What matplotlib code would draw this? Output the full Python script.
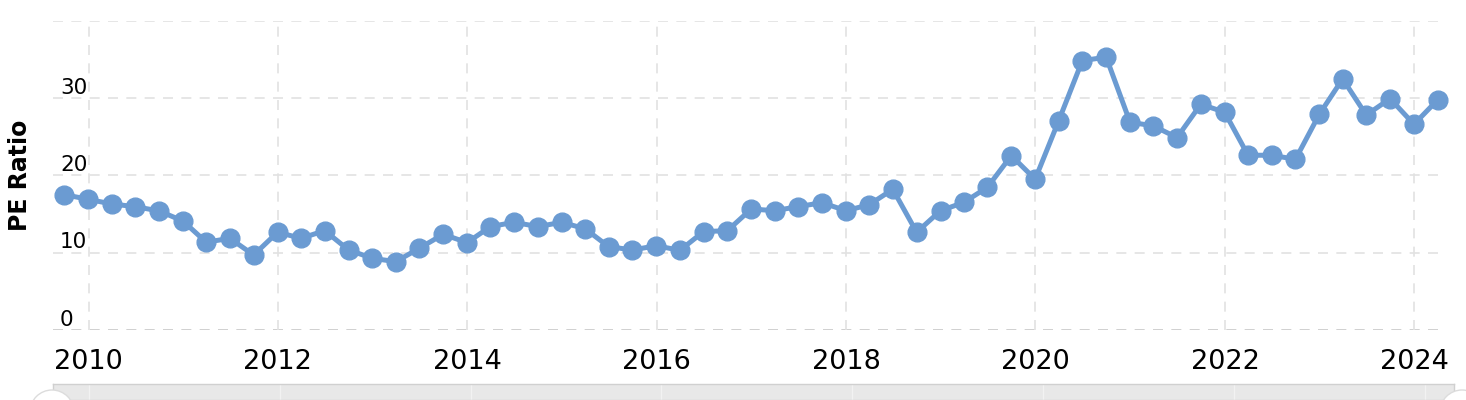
import numpy as np
import pandas as pd
import matplotlib
matplotlib.use("Agg")
import matplotlib.pyplot as plt
from matplotlib.patches import Ellipse


# quarter-end dates, 2009 Q3 .. 2024 Q1
dates = pd.date_range("2009-09-30", "2024-03-31", freq="QE")

# PE ratio
pe_ratio = [17.5, 16.9, 16.3, 15.95, 15.4, 14.1, 11.35, 11.86, 9.7, 12.64,
            11.86, 12.85, 10.35, 9.27, 8.84, 10.57, 12.38, 11.3, 13.37, 13.93,
            13.37, 13.93, 13.1, 10.78, 10.35, 10.9, 10.3, 12.72, 12.85, 15.65,
            15.43, 15.95, 16.47, 15.43, 16.2, 18.2, 12.64, 15.43, 16.5, 18.46,
            22.55, 19.5, 27.08, 34.84, 35.28, 26.87, 26.4, 24.88, 29.2, 28.16,
            22.6, 22.6, 22.08, 27.9, 32.47, 27.8, 29.92, 26.6, 29.75]

y_ticks = [0, 10, 20, 30, 40]
y_labels = ["0", "10", "20", "30"]
x_years = [2010, 2012, 2014, 2016, 2018, 2020, 2022, 2024]

line_color = "#6b9bd2"
W, H = 1466, 400

fig = plt.figure(figsize=(W / 100, H / 100), dpi=100)
ax = fig.add_axes([53 / W, 70 / H, (1443 - 53) / W, (330 - 20.7) / H])

ax.plot(dates, pe_ratio, color=line_color, lw=3.6, marker="o", ms=13.5,
        solid_joinstyle="round", clip_on=False, zorder=3)

ax.set_ylim(0, 40)
ax.set_xlim(pd.Timestamp("2009-08-17"), pd.Timestamp("2024-04-21"))

# grid
for v in y_ticks:
    ax.axhline(v, color="#c8c8c8" if v == 0 else "#e2e2e2", lw=1.2,
               ls=(0, (6, 5)), zorder=1)
for yr in x_years:
    ax.axvline(pd.Timestamp(f"{yr}-01-01"), color="#e2e2e2", lw=1.2,
               ls=(0, (6, 5)), zorder=1)

ax.set_yticks([])
ax.set_xticks([pd.Timestamp(f"{yr}-01-01") for yr in x_years])
ax.set_xticklabels([str(yr) for yr in x_years])
ax.tick_params(axis="x", length=0, pad=14, labelsize=19.5, colors="black")
for s in ax.spines.values():
    s.set_visible(False)

# y labels sit inside the plot, above their grid line
for v, lab in zip(y_ticks, y_labels):
    ax.text(0.005, v + 0.55, lab, transform=ax.get_yaxis_transform(),
            ha="left", va="baseline", fontsize=15.5, color="black")

fig.text(20 / W, (H - 175) / H, "PE Ratio", rotation=90, ha="center",
         va="center", fontsize=17, fontweight="bold")

# navigator strip at the bottom
nav = fig.add_axes([53 / W, 0, (1454 - 53) / W, 16 / H])
nav.set_facecolor("#e8e8e8")
nav.set_xlim(ax.get_xlim())
for yr in x_years:
    nav.axvline(pd.Timestamp(f"{yr}-01-01"), color="#f2f2f2", lw=1)
nav.set_xticks([])
nav.set_yticks([])
for s in nav.spines.values():
    s.set_color("#d0d0d0")
    s.set_linewidth(1)

# navigator handles
for cx in (52, 1462):
    fig.patches.append(Ellipse((cx / W, -12 / H), 44 / W, 44 / H,
                               transform=fig.transFigure, facecolor="white",
                               edgecolor="#dcdcdc", lw=1, zorder=5))

fig.savefig("out.png", dpi=100)
